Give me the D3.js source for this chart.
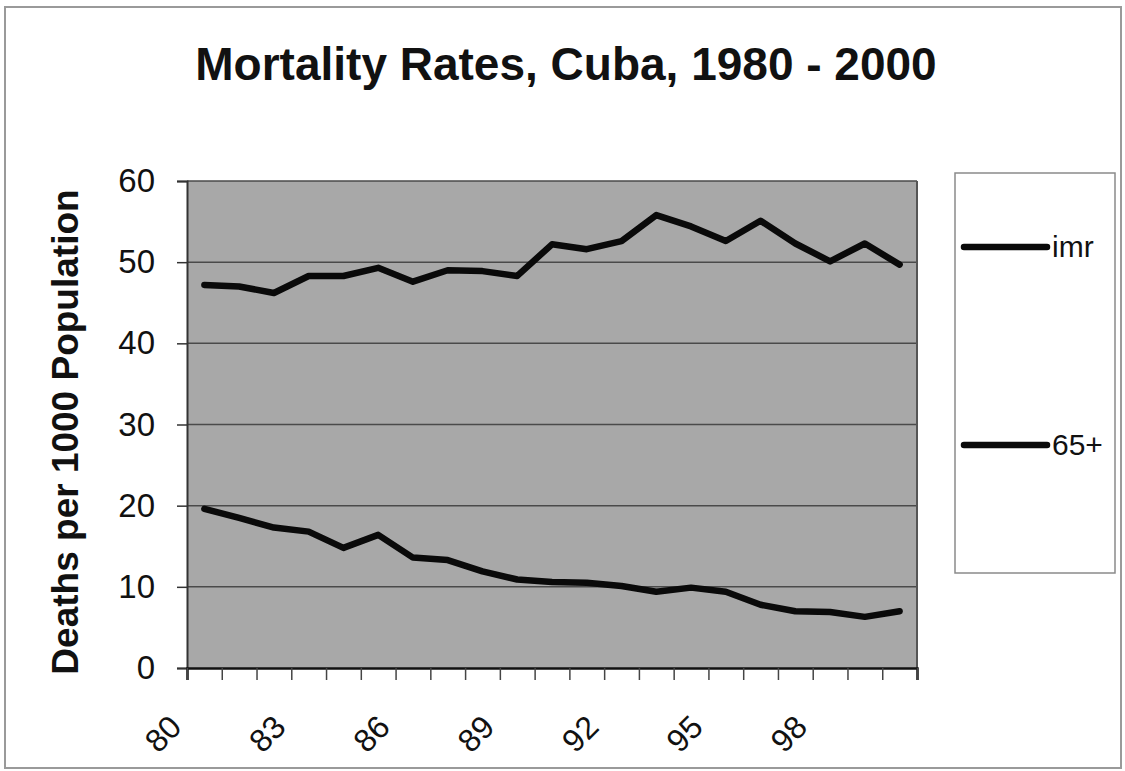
<!DOCTYPE html>
<html>
<head>
<meta charset="utf-8">
<script src="https://cdn.jsdelivr.net/npm/d3@7"></script>
<style>
  html, body { margin: 0; padding: 0; background: #fff; }
  svg { display: block; font-family: "Liberation Sans", Arial, sans-serif; }
</style>
</head>
<body>
<svg id="chart" width="1125" height="771"></svg>
<script>
// Years 1980-2000, shown as two-digit category labels
const categories = ["80","81","82","83","84","85","86","87","88","89","90",
                    "91","92","93","94","95","96","97","98","99","00"];
// Infant mortality rate (deaths per 1000)
const imr = [19.6, 18.5, 17.3, 16.8, 14.8, 16.4, 13.6, 13.3, 11.9, 10.9, 10.6,
             10.5, 10.1, 9.4, 9.9, 9.4, 7.8, 7.0, 6.9, 6.3, 7.0];
// Mortality rate, population aged 65 and over (deaths per 1000)
const over65 = [47.2, 47.0, 46.2, 48.3, 48.3, 49.3, 47.6, 49.0, 48.9, 48.3, 52.2,
                51.6, 52.6, 55.8, 54.4, 52.6, 55.1, 52.3, 50.1, 52.3, 49.7];
const seriesNames = ["imr", "65+"];
const yTicks = [0, 10, 20, 30, 40, 50, 60];
const xTickLabels = ["80", "83", "86", "89", "92", "95", "98"];

const svg = d3.select("#chart");
const plot = { left: 187, right: 917, top: 181, bottom: 668 };

// outer chart frame
svg.append("rect")
  .attr("x", 5).attr("y", 7).attr("width", 1116).attr("height", 761)
  .attr("fill", "#fff").attr("stroke", "#9a9a9a").attr("stroke-width", 2);

// title
svg.append("text")
  .attr("x", 566).attr("y", 80)
  .attr("text-anchor", "middle")
  .attr("font-weight", "bold").attr("font-size", 46)
  .attr("fill", "#111")
  .text("Mortality Rates, Cuba, 1980 - 2000");

// scales: category boundaries on a linear index scale, values on y
const x = d3.scaleLinear().domain([0, categories.length]).range([plot.left, plot.right]);
const y = d3.scaleLinear().domain([0, 60]).range([plot.bottom, plot.top]);
const cx = i => x(i + 0.5);

// plot area
svg.append("rect")
  .attr("x", plot.left).attr("y", plot.top)
  .attr("width", plot.right - plot.left).attr("height", plot.bottom - plot.top)
  .attr("fill", "#a8a8a8");

// horizontal gridlines
svg.append("g")
  .selectAll("line")
  .data(yTicks.filter(v => v > 0))
  .join("line")
  .attr("x1", plot.left).attr("x2", plot.right)
  .attr("y1", d => y(d)).attr("y2", d => y(d))
  .attr("stroke", "#4a4a4a").attr("stroke-width", 1.5);

// right edge of the plot area
svg.append("line")
  .attr("x1", plot.right).attr("x2", plot.right)
  .attr("y1", plot.top).attr("y2", plot.bottom)
  .attr("stroke", "#555").attr("stroke-width", 2);

// y axis
const yAxis = svg.append("g")
  .attr("transform", `translate(${plot.left},0)`)
  .call(d3.axisLeft(y).tickValues(yTicks).tickSize(10).tickPadding(22).tickFormat(d3.format("d")));
yAxis.select(".domain").attr("stroke", "#333").attr("stroke-width", 2);
yAxis.selectAll(".tick line").attr("stroke", "#333").attr("stroke-width", 1.5);
yAxis.selectAll(".tick text")
  .attr("font-size", 33).attr("fill", "#111")
  .attr("font-family", "Liberation Sans, Arial, sans-serif");

// x axis: ticks at category boundaries
const xAxis = svg.append("g")
  .attr("transform", `translate(0,${plot.bottom})`)
  .call(d3.axisBottom(x).tickValues(d3.range(categories.length + 1)).tickSize(12).tickFormat(""));
xAxis.select(".domain").attr("stroke", "#111").attr("stroke-width", 2.5);
xAxis.selectAll(".tick line").attr("stroke", "#444").attr("stroke-width", 1.5);

// rotated category labels, every third year
svg.append("g")
  .selectAll("text")
  .data(xTickLabels)
  .join("text")
  .attr("transform", d => `translate(${cx(categories.indexOf(d)) - 21},729) rotate(-45)`)
  .attr("text-anchor", "end")
  .attr("font-size", 32).attr("fill", "#111")
  .text(d => d);

// y axis title
svg.append("text")
  .attr("transform", "translate(78,432) rotate(-90)")
  .attr("text-anchor", "middle")
  .attr("font-weight", "bold").attr("font-size", 37)
  .attr("fill", "#111")
  .text("Deaths per 1000 Population");

// series lines
const line = d3.line().x((d, i) => cx(i)).y(d => y(d));
[imr, over65].forEach(s => {
  svg.append("path")
    .datum(s)
    .attr("d", line)
    .attr("fill", "none")
    .attr("stroke", "#0a0a0a").attr("stroke-width", 6.5)
    .attr("stroke-linejoin", "round").attr("stroke-linecap", "round");
});

// legend
const legend = svg.append("g");
legend.append("rect")
  .attr("x", 955).attr("y", 173).attr("width", 160).attr("height", 400)
  .attr("fill", "#fff").attr("stroke", "#8a8a8a").attr("stroke-width", 1.5);
const legendY = [247, 445];
seriesNames.forEach((name, i) => {
  legend.append("line")
    .attr("x1", 964).attr("x2", 1047)
    .attr("y1", legendY[i]).attr("y2", legendY[i])
    .attr("stroke", "#0a0a0a").attr("stroke-width", 6.5).attr("stroke-linecap", "round");
  legend.append("text")
    .attr("x", 1052).attr("y", legendY[i] + 10)
    .attr("font-size", 30).attr("fill", "#111")
    .text(name);
});
</script>
</body>
</html>
